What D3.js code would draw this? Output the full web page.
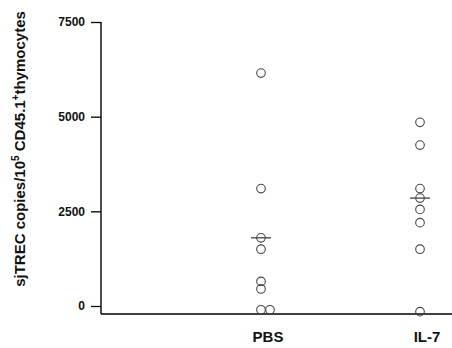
<!DOCTYPE html>
<html><head><meta charset="utf-8">
<script src="https://cdn.jsdelivr.net/npm/d3@7"></script>
<style>
html,body{margin:0;padding:0;background:#fff;}
svg{display:block;font-family:"Liberation Sans",Arial,sans-serif;}
</style></head>
<body>
<svg id="chart" width="452" height="348"></svg>
<script>
const groups = ["PBS", "IL-7"];
const pbsValues = [6150, 3100, 1800, 1500, 650, 450, -100, -100];
const il7Values = [4850, 4250, 3100, 2850, 2550, 2200, 1500, -150];
const centerLines = [1800, 2850];
const yTicks = [0, 2500, 5000, 7500];
const yTitle = ["sjTREC copies/10", "5", " CD45.1", "+", "thymocytes"];

const svg = d3.select("#chart");
const y = d3.scaleLinear().domain([0, 7500]).range([306, 22]);
const x = d3.scalePoint().domain(groups).range([261, 420]);
const axisLeftX = 101, baseY = 314;

// y axis
const ga = svg.append("g").attr("transform", `translate(${axisLeftX},0)`)
  .call(d3.axisLeft(y).tickValues(yTicks).tickFormat(d3.format("d")).tickSize(10).tickPadding(6).tickSizeOuter(0));
ga.select(".domain").remove();
ga.selectAll(".tick line").attr("stroke", "#000").attr("stroke-width", 1.3);
ga.selectAll(".tick text").attr("font-size", 12).attr("font-weight", "bold").attr("fill", "#111")
  .attr("font-family", "'Liberation Sans',Arial,sans-serif");
svg.append("line").attr("x1", axisLeftX).attr("x2", axisLeftX).attr("y1", y(7500)).attr("y2", baseY)
  .attr("stroke", "#000").attr("stroke-width", 1.4);
svg.append("line").attr("x1", axisLeftX).attr("x2", 452).attr("y1", baseY).attr("y2", baseY)
  .attr("stroke", "#000").attr("stroke-width", 1.4);

// category labels
svg.selectAll(".cat").data(groups).enter().append("text")
  .attr("x", d => x(d) + 7).attr("y", 342).attr("text-anchor", "middle")
  .attr("font-size", 15).attr("font-weight", "bold").attr("fill", "#111").text(d => d);

// points with dodge for identical values
const series = [pbsValues, il7Values];
series.forEach((vals, gi) => {
  const seen = {};
  const pts = vals.map(v => {
    const k = seen[v] || 0; seen[v] = k + 1;
    return {v, dx: k * 9};
  });
  const g = groups[gi];
  svg.append("line").attr("x1", x(g) - 10).attr("x2", x(g) + 10)
    .attr("y1", y(centerLines[gi])).attr("y2", y(centerLines[gi]))
    .attr("stroke", "#333").attr("stroke-width", 1.2);
  svg.selectAll(null).data(pts).enter().append("circle")
    .attr("cx", d => x(g) + d.dx).attr("cy", d => y(d.v)).attr("r", 4.3)
    .attr("fill", "none").attr("stroke", "#444").attr("stroke-width", 1.1);
});

// y title
const t = svg.append("text").attr("transform", "translate(25,149) rotate(-90)")
  .attr("text-anchor", "middle").attr("font-size", 15).attr("font-weight", "bold").attr("fill", "#111");
t.append("tspan").text(yTitle[0]);
t.append("tspan").attr("dy", -6).attr("font-size", 10).text(yTitle[1]);
t.append("tspan").attr("dy", 6).text(yTitle[2]);
t.append("tspan").attr("dy", -6).attr("font-size", 10).text(yTitle[3]);
t.append("tspan").attr("dy", 6).text(yTitle[4]);
</script>
</body></html>
